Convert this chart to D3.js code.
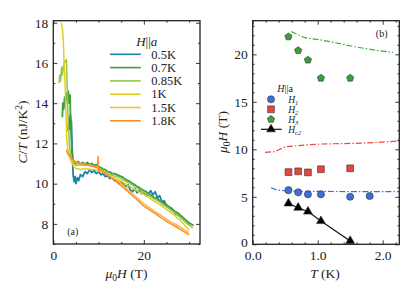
<!DOCTYPE html>
<html>
<head>
<meta charset="utf-8">
<script src="https://cdn.jsdelivr.net/npm/d3@7"></script>
<style>
  body { margin: 0; background: #fff; }
  .domain { display: none; }
  .tick line { stroke: #222; stroke-width: 0.9; }
</style>
</head>
<body>
<div id="chart"></div>
<script>
// ---- panel (a) : C/T vs field, one curve per temperature ----
var tempLabels = ["0.5K", "0.7K", "0.85K", "1K", "1.5K", "1.8K"];
var tempColors = ["#1f82a8", "#3f9c42", "#92c644", "#e2cf22", "#fbb93e", "#f98d2c"];

var c05 = [[3.3,12.6],[3.4,13.1],[3.5,12.7],[3.6,13.3],[3.7,12.9],[3.8,13.4],[3.9,12.8],[4.0,13.1],[4.1,12.2],[4.2,11.5],[4.3,10.9],[4.4,10.4],[4.6,10.1],[4.8,10.35],[5.0,10.0],[5.3,10.3],[5.6,10.15],[6.0,10.45],[6.5,10.35],[7.0,10.6],[7.5,10.5],[8.0,10.7],[8.5,10.55],[9.0,10.65],[9.5,10.5],[10.0,10.6],[10.5,10.45],[11.0,10.5],[11.5,10.35],[12.0,10.4],[12.5,10.25],[13.0,10.3],[13.5,10.15],[14.0,10.2],[14.5,10.0],[15.0,10.1],[15.5,9.95],[16.0,9.85],[16.5,9.95],[17.0,9.7],[17.5,9.6],[18.0,9.75],[18.5,9.55],[19.0,9.65],[19.5,9.5],[20.0,9.55],[20.5,9.4],[21.0,9.5],[21.5,9.65],[22.0,9.45],[22.5,9.6],[23.0,9.3],[23.5,9.4],[24.0,9.1],[24.5,9.15],[25.0,8.9],[25.5,8.85],[26.0,8.7],[26.5,8.65],[27.0,8.5],[27.5,8.45],[28.0,8.35],[28.5,8.25],[29.0,8.15],[29.5,8.05],[30.0,7.95]];
var c07 = [[2.0,13.3],[2.1,14.0],[2.3,13.7],[2.5,14.3],[2.7,14.0],[2.9,14.5],[3.1,14.2],[3.3,14.6],[3.5,14.0],[3.7,14.4],[3.8,13.3],[3.95,12.4],[4.1,11.7],[4.3,11.25],[4.6,11.05],[5.0,11.0],[5.5,11.1],[6.0,10.95],[6.5,11.05],[7.0,10.95],[7.5,11.05],[8.0,10.95],[8.5,11.0],[9.0,10.9],[9.5,10.95],[10.0,10.85],[10.5,10.8],[11.0,10.72],[11.5,10.7],[12.0,10.6],[12.5,10.58],[13.0,10.5],[13.5,10.5],[14.0,10.45],[14.5,10.4],[15.0,10.35],[15.5,10.3],[16.0,10.2],[16.5,10.15],[17.0,10.1],[17.5,10.0],[18.0,9.95],[18.5,9.85],[19.0,9.8],[19.5,9.72],[20.0,9.65],[20.5,9.6],[21.0,9.5],[21.5,9.45],[22.0,9.35],[22.5,9.3],[23.0,9.25],[23.5,9.15],[24.0,9.1],[24.5,9.0],[25.0,8.95],[25.5,8.85],[26.0,8.8],[26.5,8.7],[27.0,8.6],[27.5,8.55],[28.0,8.45],[28.5,8.35],[29.0,8.25],[29.5,8.15],[30.0,8.05],[30.5,7.98],[31.0,7.92]];
var c085 = [[1.3,15.0],[1.4,15.4],[1.6,15.1],[1.85,15.8],[2.0,15.4],[2.3,15.9],[2.6,16.1],[2.9,16.15],[3.0,15.3],[3.1,14.6],[3.2,13.7],[3.35,12.8],[3.5,12.1],[3.7,11.6],[4.0,11.2],[4.5,11.0],[5,10.9],[6,10.95],[7,10.9],[8,10.95],[9,10.85],[10,10.8],[11,10.65],[12,10.52],[13,10.42],[14,10.35],[15,10.25],[16,10.12],[17,10.0],[18,9.85],[19,9.72],[20,9.58],[21,9.43],[22,9.28],[23,9.15],[24,9.0],[25,8.85],[26,8.7],[27,8.52],[28,8.35],[29,8.15],[30,7.95],[30.8,7.8]];
var c1 = [[1.7,18.0],[1.85,17.9],[2.0,17.7],[2.2,17.2],[2.36,16.1],[2.58,15.1],[2.8,13.5],[2.95,12.2],[3.3,11.6],[3.8,11.2],[4.5,10.85],[5,10.75],[6,10.7],[7,10.75],[8,10.7],[9,10.7],[10,10.65],[11,10.55],[12,10.42],[13,10.32],[14,10.22],[15,10.12],[16,9.98],[17,9.85],[18,9.72],[19,9.58],[20,9.47],[21,9.32],[22,9.17],[23,9.02],[24,8.88],[25,8.72],[26,8.57],[27,8.38],[28,8.18],[29,7.95],[30,7.7]];
var c15 = [[2.9,11.7],[3.2,11.5],[4,11.2],[5,11.05],[6,11.0],[7,10.95],[8,10.9],[9,10.85],[10,10.75],[11,10.6],[12,10.47],[13,10.33],[14,10.18],[15,10.0],[16,9.8],[17,9.6],[18,9.4],[19,9.2],[20,9.0],[21,8.84],[22,8.69],[23,8.54],[24,8.39],[25,8.24],[26,8.1],[27,7.97],[28,7.84],[29,7.7],[30,7.57]];
var c18 = [[2.9,11.65],[3.2,11.5],[4,11.25],[5,11.08],[6,11.0],[7,10.95],[8,10.9],[9,10.85],[9.8,10.8],[9.9,11.35],[10.0,10.6],[10.2,10.75],[11,10.6],[12,10.42],[13,10.25],[14,10.08],[15,9.9],[16,9.7],[17,9.5],[18,9.3],[19,9.1],[20,8.88],[21,8.73],[22,8.58],[23,8.43],[24,8.28],[25,8.13],[26,8.0],[27,7.87],[28,7.73],[29,7.6],[30,7.45]];
var curvesA = [c05, c07, c085, c1, c15, c18];

// ---- panel (b) : phase diagram ----
var tH = [0.55, 0.7, 0.85, 1.05, 1.5];
var tH1 = [0.55, 0.7, 0.85, 1.05, 1.5, 1.8];
var h1 = [5.7, 5.47, 5.26, 5.26, 5.0, 5.08];
var h2 = [7.6, 7.68, 7.57, 7.9, 8.0];
var h3 = [21.85, 20.4, 19.4, 17.5, 17.5];
var hc2 = [4.3, 3.85, 3.45, 2.45, 0.35];

var tGreenDD = [0.59, 0.8, 1.06, 1.32, 1.57, 1.88, 2.16];
var hGreenDD = [22.4, 21.75, 21.5, 21.15, 20.8, 20.45, 20.2];
var tRedDD = [0.19, 0.34, 0.5, 0.8, 1.06, 1.57, 1.93, 2.25];
var hRedDD = [9.68, 9.75, 10.27, 10.45, 10.56, 10.63, 10.73, 10.87];
var tBlueDD = [0.28, 0.37, 0.55, 1.0, 1.5, 2.0, 2.25];
var hBlueDD = [5.96, 5.72, 5.6, 5.57, 5.55, 5.55, 5.55];

var serif = '"Liberation Serif", "Times New Roman", "DejaVu Serif", serif';

var svg = d3.select("#chart").append("svg")
  .attr("width", 415).attr("height", 297)
  .attr("font-family", serif);

// draws inward ticks on all four sides plus labels on left/bottom
function frame(g, x, y, w, h, xMaj, xMin, yMaj, yMin) {
  g.append("g").attr("transform", "translate(0," + h + ")")
    .call(d3.axisBottom(x).tickValues(xMaj).tickSize(-4).tickPadding(6));
  g.append("g").attr("transform", "translate(0," + h + ")")
    .call(d3.axisBottom(x).tickValues(xMin).tickSize(-2).tickFormat(""));
  g.append("g").call(d3.axisTop(x).tickValues(xMaj).tickSize(-4).tickFormat(""));
  g.append("g").call(d3.axisTop(x).tickValues(xMin).tickSize(-2).tickFormat(""));
  g.append("g").attr("class", "yaxis")
    .call(d3.axisLeft(y).tickValues(yMaj).tickSize(-4).tickPadding(5));
  g.append("g").call(d3.axisLeft(y).tickValues(yMin).tickSize(-2).tickFormat(""));
  g.append("g").attr("transform", "translate(" + w + ",0)")
    .call(d3.axisRight(y).tickValues(yMaj).tickSize(-4).tickFormat(""));
  g.append("g").attr("transform", "translate(" + w + ",0)")
    .call(d3.axisRight(y).tickValues(yMin).tickSize(-2).tickFormat(""));
  g.selectAll(".tick text").style("font-size", "13.5px").attr("fill", "#222");
  g.append("rect").attr("width", w).attr("height", h)
    .attr("fill", "none").attr("stroke", "#222").attr("stroke-width", 1.3);
}

// ===== panel (a) =====
var wa = 146.7, ha = 223.3;
var ga = svg.append("g").attr("transform", "translate(53.3,20.7)");
var xa = d3.scaleLinear().domain([0, 32.4]).range([0, wa]);
var ya = d3.scaleLinear().domain([7, 18.1]).range([ha, 0]);

ga.append("defs").append("clipPath").attr("id", "clipA")
  .append("rect").attr("width", wa).attr("height", ha);

var lineA = d3.line().x(function(d) { return xa(d[0]); }).y(function(d) { return ya(d[1]); });
ga.append("g").attr("clip-path", "url(#clipA)")
  .selectAll("path").data(curvesA).enter().append("path")
  .attr("d", lineA)
  .attr("fill", "none")
  .attr("stroke", function(d, i) { return tempColors[i]; })
  .attr("stroke-width", function(d, i) { return i < 2 ? 1.8 : 1.5; })
  .attr("stroke-linejoin", "round");

frame(ga, xa, ya, wa, ha, [0, 20], [5, 10, 15, 25, 30],
  [8, 10, 12, 14, 16, 18], [7, 9, 11, 13, 15, 17]);

// legend (a)
var legA = ga.append("g");
legA.append("text").attr("x", 93.4).attr("y", 25.5).attr("text-anchor", "middle")
  .style("font-size", "13px")
  .html('<tspan font-style="italic">H</tspan>||<tspan font-style="italic">a</tspan>');
tempLabels.forEach(function(t, i) {
  var yy = 33.6 + i * 13.3;
  legA.append("line").attr("x1", 56.7).attr("x2", 87.4).attr("y1", yy).attr("y2", yy)
    .attr("stroke", tempColors[i]).attr("stroke-width", 1.6);
  legA.append("text").attr("x", 98).attr("y", yy + 4.3).style("font-size", "12.5px").text(t);
});
ga.append("text").attr("x", 19.4).attr("y", 214.5).attr("text-anchor", "middle")
  .style("font-size", "10px").text("(a)");

// axis titles (a)
svg.append("text").attr("x", 126.5).attr("y", 278).attr("text-anchor", "middle")
  .style("font-size", "13.5px")
  .html('<tspan font-style="italic">μ</tspan><tspan font-size="9.5px" dy="3">0</tspan><tspan font-style="italic" dy="-3">H</tspan> (T)');
svg.append("text").attr("transform", "translate(27,132) rotate(-90)").attr("text-anchor", "middle")
  .style("font-size", "13.5px")
  .html('<tspan font-style="italic">C</tspan>/<tspan font-style="italic">T</tspan> (nJ/K<tspan font-size="9.5px" dy="-5">2</tspan><tspan dy="5">)</tspan>');

// ===== panel (b) =====
var wb = 146.6, hb = 223.6;
var gb = svg.append("g").attr("transform", "translate(252.7,20.7)");
var xb = d3.scaleLinear().domain([0, 2.256]).range([0, wb]);
var yb = d3.scaleLinear().domain([0, 23.54]).range([hb, 0]);

var lineB = d3.line().x(function(d) { return xb(d[0]); }).y(function(d) { return yb(d[1]); });
function pairs(ts, hs) { return ts.map(function(t, i) { return [t, hs[i]]; }); }

var ddLines = [
  { d: pairs(tGreenDD, hGreenDD), c: "#3cae3c" },
  { d: pairs(tRedDD, hRedDD), c: "#ec4a40" },
  { d: pairs(tBlueDD, hBlueDD), c: "#3f6ed8" }
];
gb.selectAll("path.dd").data(ddLines).enter().append("path").attr("class", "dd")
  .attr("d", function(d) { return lineB(d.d); })
  .attr("fill", "none").attr("stroke", function(d) { return d.c; })
  .attr("stroke-width", 1.2).attr("stroke-dasharray", "6,2,1.5,2");

// Hc2 line and markers
gb.append("path").attr("d", lineB(pairs(tH, hc2)))
  .attr("fill", "none").attr("stroke", "#111").attr("stroke-width", 1.2);

var pentagon = {
  draw: function(ctx, size) {
    var r = Math.sqrt(size / 2.378);
    for (var i = 0; i < 5; i++) {
      var a = -Math.PI / 2 + i * 2 * Math.PI / 5;
      if (i === 0) ctx.moveTo(r * Math.cos(a), r * Math.sin(a));
      else ctx.lineTo(r * Math.cos(a), r * Math.sin(a));
    }
    ctx.closePath();
  }
};

var markerSets = [
  { d: pairs(tH1, h1), type: d3.symbolCircle, size: 40, fill: "#3f6ed8" },
  { d: pairs(tH, h2), type: d3.symbolSquare, size: 46, fill: "#e8453f" },
  { d: pairs(tH, h3), type: pentagon, size: 34, fill: "#38a038" },
  { d: pairs(tH, hc2), type: d3.symbolTriangle, size: 34, fill: "#000" }
];
markerSets.forEach(function(m) {
  gb.append("g").selectAll("path").data(m.d).enter().append("path")
    .attr("transform", function(d) { return "translate(" + xb(d[0]) + "," + yb(d[1]) + ")"; })
    .attr("d", d3.symbol().type(m.type).size(m.size))
    .attr("fill", m.fill).attr("stroke", "#333").attr("stroke-width", 0.6);
});

frame(gb, xb, yb, wb, hb, [0, 1, 2], [0.2, 0.4, 0.6, 0.8, 1.2, 1.4, 1.6, 1.8, 2.2],
  [0, 5, 10, 15, 20], [1, 2, 3, 4, 6, 7, 8, 9, 11, 12, 13, 14, 16, 17, 18, 19, 21, 22, 23]);
// the y "0" sits a little higher so it clears the x "0" in the corner
gb.select(".yaxis").selectAll(".tick text").filter(function(d) { return d === 0; })
  .attr("dy", "0.15em");

// legend (b)
var legB = gb.append("g");
legB.append("text").attr("x", 32.3).attr("y", 71).attr("text-anchor", "middle")
  .style("font-size", "10px")
  .html('<tspan font-style="italic">H</tspan>||a');
var legNames = [["H", "1"], ["H", "2"], ["H", "3"], ["H", "c2"]];
markerSets.forEach(function(m, i) {
  var yy = 78.6 + i * 10;
  if (i === 3) {
    legB.append("line").attr("x1", 8.3).attr("x2", 29).attr("y1", yy).attr("y2", yy)
      .attr("stroke", "#111").attr("stroke-width", 1.2);
  }
  legB.append("path").attr("transform", "translate(18.3," + yy + ")")
    .attr("d", d3.symbol().type(m.type).size(m.size))
    .attr("fill", m.fill).attr("stroke", "#333").attr("stroke-width", 0.6);
  legB.append("text").attr("x", 35.5).attr("y", yy + 3.3).style("font-size", "9.5px")
    .html('<tspan font-style="italic">' + legNames[i][0] + '</tspan><tspan font-style="italic" font-size="6.5px" dy="2">' + legNames[i][1] + '</tspan>');
});
gb.append("text").attr("x", 129).attr("y", 16).attr("text-anchor", "middle")
  .style("font-size", "10px").text("(b)");

// axis titles (b)
svg.append("text").attr("x", 325).attr("y", 278).attr("text-anchor", "middle")
  .style("font-size", "13.5px")
  .html('<tspan font-style="italic">T</tspan> (K)');
svg.append("text").attr("transform", "translate(227,132) rotate(-90)").attr("text-anchor", "middle")
  .style("font-size", "13.5px")
  .html('<tspan font-style="italic">μ</tspan><tspan font-size="9.5px" dy="3">0</tspan><tspan font-style="italic" dy="-3">H</tspan> (T)');

// axis groups carry their own sans-serif attribute, so force the serif face everywhere
svg.selectAll("text").style("font-family", serif).attr("fill", "#222");
</script>
</body>
</html>
